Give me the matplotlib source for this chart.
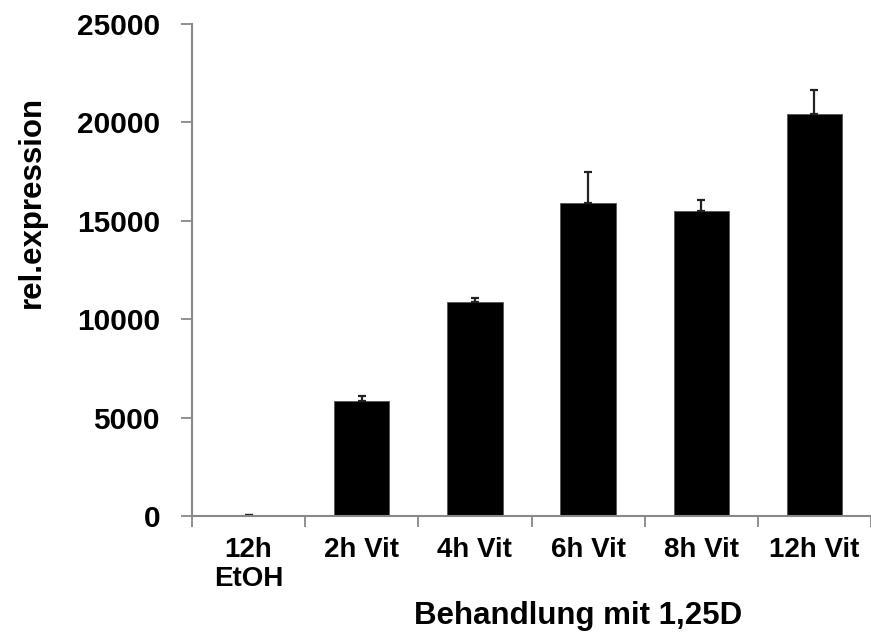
import matplotlib
matplotlib.use("Agg")
import matplotlib.pyplot as plt

categories = ["12h\nEtOH", "2h Vit", "4h Vit", "6h Vit", "8h Vit", "12h Vit"]
values = [60, 5840, 10870, 15900, 15510, 20410]
errors = [0, 260, 200, 1560, 530, 1240]
y_ticks = [0, 5000, 10000, 15000, 20000, 25000]

plt.rcParams['font.family'] = ['Liberation Sans', 'DejaVu Sans']
plt.rcParams['font.weight'] = 'bold'

fig = plt.figure(figsize=(8.71, 6.35), dpi=100)
ax = fig.add_axes([192/871, 1-516/635, 1-192/871, (516-24)/635])

x = list(range(len(categories)))
ax.bar(x, values, width=0.49, color='black', edgecolor='#555555', linewidth=0.6)
ax.errorbar(x, values, yerr=[[0]*len(errors), errors], fmt='none',
            ecolor='#222222', elinewidth=1.6, capsize=3, capthick=1.6)

ax.set_xlim(-0.5, 5.487)
ax.set_ylim(0, 25000)
ax.set_yticks(y_ticks)
ax.set_yticklabels([str(v) for v in y_ticks], fontsize=21.5, fontweight='bold')
ax.set_xticks([i - 0.5 for i in range(len(categories))] + [5.5], minor=False)
ax.set_xticklabels([])
ax.set_xticks(x, minor=True)
ax.set_xticklabels(categories, minor=True, fontsize=20, fontweight='bold', linespacing=1.15)
ax.tick_params(axis='x', which='minor', length=0, pad=15)
ax.tick_params(axis='x', which='major', length=8, width=1.3, color='#888888', direction='out')
ax.tick_params(axis='y', length=8, width=1.3, color='#888888', direction='out', pad=15)

for s in ['top', 'right']:
    ax.spines[s].set_visible(False)
for s in ['left', 'bottom']:
    ax.spines[s].set_color('#888888')
    ax.spines[s].set_linewidth(1.5)

fig.text(578/871, 1-624/635, "Behandlung mit 1,25D", ha='center', va='baseline',
         fontsize=22.5, fontweight='bold')
fig.text(32/871, 1-202/635, "rel.expression", ha='center', va='center',
         rotation=90, fontsize=22.5, fontweight='bold')

fig.savefig("out.png", dpi=100)
